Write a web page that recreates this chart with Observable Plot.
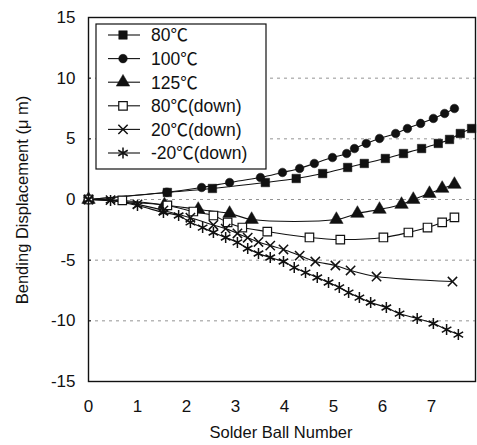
<!DOCTYPE html>
<html>
<head>
<meta charset="utf-8">
<script src="https://cdn.jsdelivr.net/npm/d3@7"></script>
<script src="https://cdn.jsdelivr.net/npm/@observablehq/plot@0.6"></script>
<style>
  html, body { margin: 0; padding: 0; background: #fff; }
  #chart { position: relative; width: 477px; height: 445px; }
  svg { font-family: "Liberation Sans", Arial, "Noto Sans CJK KR", sans-serif; }
</style>
</head>
<body>
<div id="chart"></div>
<script>
const seriesNames = ["80℃", "100℃", "125℃", "80℃(down)", "20℃(down)", "-20℃(down)"];
const seriesSymbols = ["square", "circle", "triangle", "square", "times", "asterisk"];
const seriesFilled = [true, true, true, false, false, false];

const x80 = [0, 1.61, 2.53, 3.61, 4.24, 4.78, 5.29, 5.63, 6.06, 6.43, 6.8, 7.14, 7.37, 7.59, 7.82];
const y80 = [0, 0.58, 0.91, 1.4, 1.73, 2.14, 2.64, 2.97, 3.38, 3.79, 4.2, 4.62, 4.95, 5.44, 5.85];

const x100 = [0, 1.6, 2.31, 2.88, 3.51, 3.96, 4.31, 4.61, 4.98, 5.27, 5.43, 5.67, 5.94, 6.27, 6.51, 6.78, 7.04, 7.27, 7.47];
const y100 = [0, 0.6, 0.99, 1.4, 1.81, 2.23, 2.56, 2.97, 3.46, 3.79, 4.2, 4.62, 5.03, 5.44, 5.85, 6.27, 6.68, 7.09, 7.5];

const x125 = [0, 1.55, 2.24, 2.88, 3.33, 5.06, 5.49, 5.94, 6.39, 6.63, 6.96, 7.22, 7.47];
const y125 = [0, -0.45, -0.82, -1.15, -1.65, -1.65, -1.15, -0.82, -0.41, 0, 0.49, 0.91, 1.24];

const x80d = [0, 0.69, 1.61, 2.14, 2.55, 2.84, 3.14, 3.65, 4.51, 5.14, 6.02, 6.53, 6.92, 7.22, 7.47];
const y80d = [0, -0.08, -0.49, -0.99, -1.32, -1.89, -2.31, -2.64, -3.13, -3.3, -3.13, -2.72, -2.31, -1.89, -1.48];

const x20d = [0, 0.45, 1.0, 1.53, 2.08, 2.55, 2.8, 3.04, 3.25, 3.47, 3.71, 3.98, 4.31, 4.63, 5.04, 5.35, 5.88, 7.43];
const y20d = [0, -0.05, -0.4, -0.9, -1.5, -2.1, -2.4, -2.8, -3.15, -3.5, -3.8, -4.12, -4.62, -5.11, -5.44, -5.85, -6.35, -6.76];

const xm20d = [0, 0.45, 1.0, 1.53, 1.84, 2.08, 2.33, 2.55, 2.8, 3.04, 3.25, 3.47, 3.71, 3.98, 4.2, 4.43, 4.67, 4.9, 5.12, 5.31, 5.53, 5.76, 6.08, 6.35, 6.71, 7.04, 7.31, 7.55];
const ym20d = [0, -0.08, -0.5, -1.07, -1.32, -1.89, -2.31, -2.72, -3.13, -3.54, -4.04, -4.45, -4.78, -5.11, -5.61, -6.02, -6.43, -6.84, -7.25, -7.67, -8.08, -8.49, -8.9, -9.4, -9.81, -10.22, -10.72, -11.13];

const yTicks = [-15, -10, -5, 0, 5, 10, 15];
const xTicks = [0, 1, 2, 3, 4, 5, 6, 7];
const gridValues = [-10, -5, 0, 5, 10];
const xLabel = "Solder Ball Number";
const yLabel = "Bending Displacement (μ m)";

const xs = [x80, x100, x125, x80d, x20d, xm20d];
const ys = [y80, y100, y125, y80d, y20d, ym20d];
const data = [];
seriesNames.forEach((s, i) => {
  xs[i].forEach((x, j) => data.push({series: s, idx: i, x, y: ys[i][j]}));
});

const fillFor = i => seriesFilled[i] ? "#111" : (seriesSymbols[i] === "square" ? "white" : "none");
const rFor = i => ({square: 4.8, circle: 4.3, triangle: 5, times: 4.3, asterisk: 5.2})[seriesSymbols[i]];
const swFor = i => seriesFilled[i] ? 0.5 : (seriesSymbols[i] === "square" ? 1.2 : 1.5);

const lineMarks = seriesNames.map((s, i) =>
  Plot.line(data.filter(d => d.idx === i), {x: "x", y: "y", curve: "catmull-rom", stroke: "#111", strokeWidth: 1.1})
);
const dotMarks = seriesNames.map((s, i) =>
  Plot.dot(data.filter(d => d.idx === i), {
    x: "x", y: "y", symbol: () => seriesSymbols[i], r: rFor(i),
    fill: fillFor(i), stroke: "#111", strokeWidth: swFor(i)
  })
);

const plot = Plot.plot({
  width: 477,
  height: 445,
  marginLeft: 88,
  marginRight: 2,
  marginTop: 17,
  marginBottom: 64,
  style: {fontFamily: '"Liberation Sans", Arial, "Noto Sans CJK KR", sans-serif', fontSize: "17px", color: "#111", background: "white"},
  x: {domain: [0, 7.9], ticks: xTicks, tickSize: 0, tickPadding: 18, tickFormat: d => String(d), label: null},
  y: {domain: [-15, 15], ticks: yTicks, tickSize: 0, tickPadding: 13, tickFormat: d => String(d), label: null},
  marks: [
    Plot.ruleY(gridValues, {stroke: "#888", strokeWidth: 0.9, strokeDasharray: "3,4"}),
    Plot.ruleY(gridValues, {x1: 0, x2: 0.06, stroke: "#111"}),
    Plot.frame({stroke: "#111", strokeWidth: 1.4}),
    ...lineMarks,
    ...dotMarks
  ]
});
document.getElementById("chart").appendChild(plot);

const svg = d3.select(plot);
// axis titles
svg.append("text").attr("x", 281).attr("y", 432).attr("dy", "0.35em")
  .attr("text-anchor", "middle").attr("font-size", 16.5).attr("fill", "#111").text(xLabel);
svg.append("text").attr("transform", "translate(22,200) rotate(-90)").attr("dy", "0.35em")
  .attr("text-anchor", "middle").attr("font-size", 16.5).attr("fill", "#111").text(yLabel);

// legend inside the plot area
const lx = 96, ly = 24, lw = 170, lh = 145;
const g = svg.append("g").attr("text-anchor", "start");
g.append("rect").attr("x", lx).attr("y", ly).attr("width", lw).attr("height", lh)
  .attr("fill", "white").attr("stroke", "#111").attr("stroke-width", 1.2);
seriesNames.forEach((s, i) => {
  const cy = 35 + i * 23.6;
  g.append("line").attr("x1", 108).attr("x2", 140).attr("y1", cy).attr("y2", cy)
    .attr("stroke", "#111").attr("stroke-width", 1.1);
  const sym = {square: d3.symbolSquare, circle: d3.symbolCircle, triangle: d3.symbolTriangle, times: d3.symbolTimes, asterisk: d3.symbolAsterisk}[seriesSymbols[i]];
  const r = rFor(i);
  g.append("path").attr("transform", `translate(123,${cy})`)
    .attr("d", d3.symbol(sym, Math.PI * r * r)())
    .attr("fill", fillFor(i))
    .attr("stroke", "#111").attr("stroke-width", swFor(i));
  g.append("text").attr("x", 151).attr("y", cy).attr("dy", "0.36em")
    .attr("font-size", 17.5).attr("fill", "#111").text(s);
});
</script>
</body>
</html>
